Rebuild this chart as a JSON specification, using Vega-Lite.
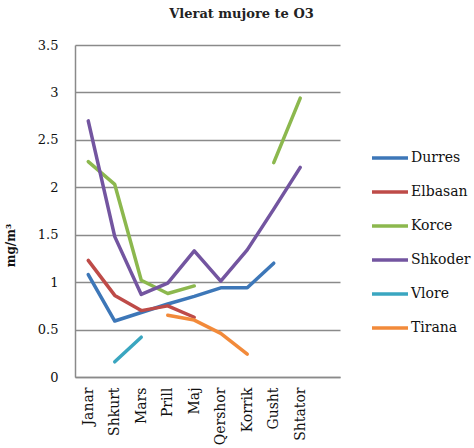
{
  "$schema": "https://vega.github.io/schema/vega-lite/v6.json",
  "width": 265,
  "height": 332,
  "autosize": "none",
  "padding": {"left": 75, "top": 45, "right": 134, "bottom": 71},
  "background": "white",
  "title": {
    "text": "Vlerat mujore te O3",
    "font": "DejaVu Serif",
    "fontSize": 13,
    "fontWeight": "bold",
    "color": "#222",
    "anchor": "middle",
    "dx": 34,
    "offset": 8,
    "baseline": "alphabetic"
  },
  "data": {
    "values": [
      {"muaji": "Janar", "qyteti": "Durres", "vlera": 1.08},
      {"muaji": "Shkurt", "qyteti": "Durres", "vlera": 0.59},
      {"muaji": "Mars", "qyteti": "Durres", "vlera": 0.68},
      {"muaji": "Prill", "qyteti": "Durres", "vlera": 0.77},
      {"muaji": "Maj", "qyteti": "Durres", "vlera": 0.85},
      {"muaji": "Qershor", "qyteti": "Durres", "vlera": 0.94},
      {"muaji": "Korrik", "qyteti": "Durres", "vlera": 0.94},
      {"muaji": "Gusht", "qyteti": "Durres", "vlera": 1.2},
      {"muaji": "Janar", "qyteti": "Elbasan", "vlera": 1.23},
      {"muaji": "Shkurt", "qyteti": "Elbasan", "vlera": 0.86},
      {"muaji": "Mars", "qyteti": "Elbasan", "vlera": 0.7},
      {"muaji": "Prill", "qyteti": "Elbasan", "vlera": 0.75},
      {"muaji": "Maj", "qyteti": "Elbasan", "vlera": 0.63},
      {"muaji": "Janar", "qyteti": "Korce", "vlera": 2.27},
      {"muaji": "Shkurt", "qyteti": "Korce", "vlera": 2.03},
      {"muaji": "Mars", "qyteti": "Korce", "vlera": 1.02},
      {"muaji": "Prill", "qyteti": "Korce", "vlera": 0.88},
      {"muaji": "Maj", "qyteti": "Korce", "vlera": 0.96},
      {"muaji": "Qershor", "qyteti": "Korce", "vlera": null},
      {"muaji": "Korrik", "qyteti": "Korce", "vlera": null},
      {"muaji": "Gusht", "qyteti": "Korce", "vlera": 2.26},
      {"muaji": "Shtator", "qyteti": "Korce", "vlera": 2.94},
      {"muaji": "Janar", "qyteti": "Shkoder", "vlera": 2.7},
      {"muaji": "Shkurt", "qyteti": "Shkoder", "vlera": 1.48},
      {"muaji": "Mars", "qyteti": "Shkoder", "vlera": 0.87},
      {"muaji": "Prill", "qyteti": "Shkoder", "vlera": 0.99},
      {"muaji": "Maj", "qyteti": "Shkoder", "vlera": 1.33},
      {"muaji": "Qershor", "qyteti": "Shkoder", "vlera": 1.01},
      {"muaji": "Korrik", "qyteti": "Shkoder", "vlera": 1.34},
      {"muaji": "Gusht", "qyteti": "Shkoder", "vlera": 1.77},
      {"muaji": "Shtator", "qyteti": "Shkoder", "vlera": 2.21},
      {"muaji": "Shkurt", "qyteti": "Vlore", "vlera": 0.16},
      {"muaji": "Mars", "qyteti": "Vlore", "vlera": 0.42},
      {"muaji": "Prill", "qyteti": "Tirana", "vlera": 0.65},
      {"muaji": "Maj", "qyteti": "Tirana", "vlera": 0.6},
      {"muaji": "Qershor", "qyteti": "Tirana", "vlera": 0.46},
      {"muaji": "Korrik", "qyteti": "Tirana", "vlera": 0.24}
    ]
  },
  "mark": {"type": "line", "strokeWidth": 3.5, "strokeCap": "round", "strokeJoin": "round"},
  "encoding": {
    "x": {
      "field": "muaji",
      "type": "nominal",
      "sort": null,
      "scale": {
        "type": "point",
        "padding": 0.5,
        "domain": ["Janar", "Shkurt", "Mars", "Prill", "Maj", "Qershor", "Korrik", "Gusht", "Shtator", "Tetor"]
      },
      "axis": {
        "title": null,
        "labelAngle": -90,
        "labelExpr": "datum.value == 'Tetor' ? '' : datum.value",
        "labelFont": "DejaVu Serif",
        "labelFontSize": 14,
        "labelColor": "#111",
        "labelPadding": 10,
        "ticks": false,
        "domainColor": "#8a8a8a",
        "domainWidth": 1.5,
        "grid": false
      }
    },
    "y": {
      "field": "vlera",
      "type": "quantitative",
      "scale": {"domain": [0, 3.5], "nice": false},
      "axis": {
        "title": "mg/m³",
        "titleFont": "DejaVu Serif",
        "titleFontSize": 12,
        "titleFontWeight": "bold",
        "titleColor": "#111",
        "titlePadding": 20,
        "titleY": 200,
        "values": [0, 0.5, 1, 1.5, 2, 2.5, 3, 3.5],
        "format": ".1~f",
        "labelFont": "DejaVu Serif",
        "labelFontSize": 13,
        "labelColor": "#111",
        "labelPadding": 17,
        "ticks": false,
        "domainColor": "#8a8a8a",
        "domainWidth": 1.5,
        "grid": true,
        "gridColor": "#8a8a8a",
        "gridWidth": 1.5
      }
    },
    "color": {
      "field": "qyteti",
      "type": "nominal",
      "scale": {
        "domain": ["Durres", "Elbasan", "Korce", "Shkoder", "Vlore", "Tirana"],
        "range": ["#3D77B8", "#BE4B48", "#8CB84E", "#7355A0", "#3AA6C0", "#F28A3A"]
      },
      "legend": {
        "title": null,
        "orient": "none",
        "legendX": 295,
        "legendY": 93,
        "symbolType": "stroke",
        "symbolSize": 1296,
        "symbolStrokeWidth": 3.5,
        "labelFont": "DejaVu Serif",
        "labelFontSize": 14,
        "labelColor": "#111",
        "labelOffset": 1,
        "rowPadding": 7
      }
    }
  },
  "config": {"view": {"stroke": null}}
}
